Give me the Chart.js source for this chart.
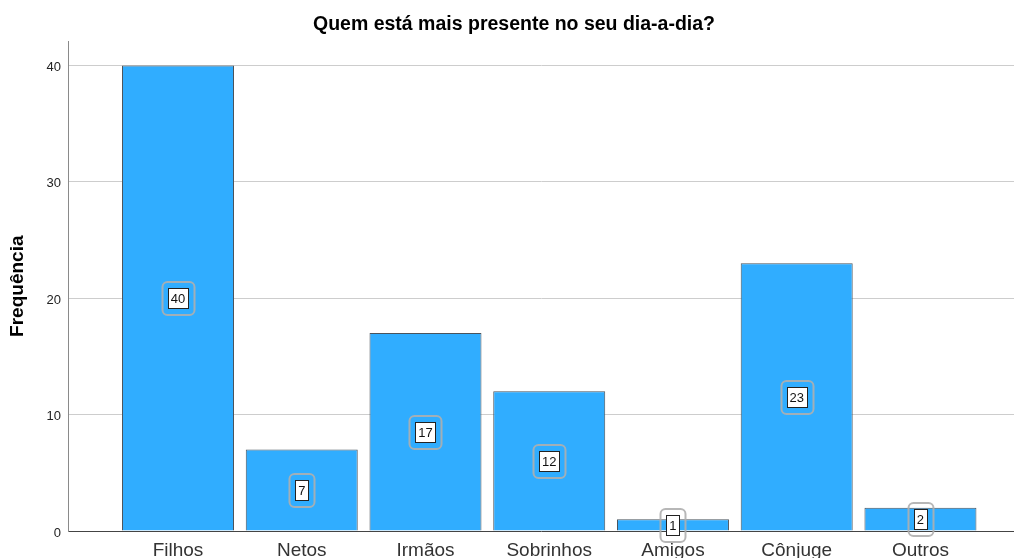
<!DOCTYPE html>
<html>
<head>
<meta charset="utf-8">
<script src="https://cdn.jsdelivr.net/npm/chart.js@4"></script>
<style>
  html, body { margin: 0; padding: 0; background: #fff; overflow: hidden; }
  #wrap { width: 1014px; height: 558px; position: relative; }
</style>
</head>
<body>
<div id="wrap"><canvas id="c" width="1014" height="558"></canvas></div>
<script>
const chartTitle = 'Quem está mais presente no seu dia-a-dia?';
const yAxisTitle = 'Frequência';
const categories = ['Filhos', 'Netos', 'Irmãos', 'Sobrinhos', 'Amigos', 'Cônjuge', 'Outros'];
const frequencies = [40, 7, 17, 12, 1, 23, 2];
const yTicks = [0, 10, 20, 30, 40];

const FONT = "'Liberation Sans', Arial, sans-serif";

const boxLabels = {
  id: 'boxLabels',
  afterDatasetsDraw(chart) {
    const ctx = chart.ctx;
    const meta = chart.getDatasetMeta(0);
    const yScale = chart.scales.y;
    ctx.save();
    ctx.font = '13px ' + FONT;
    ctx.textAlign = 'center';
    ctx.textBaseline = 'middle';
    meta.data.forEach((bar, i) => {
      const v = frequencies[i];
      const cx = bar.x;
      const cy = yScale.getPixelForValue(v / 2);
      const txt = String(v);
      const tw = ctx.measureText(txt).width;
      const iw = Math.round(tw + 6), ih = 20;
      const ix = Math.round(cx - iw / 2) + 0.5, iy = Math.round(cy - ih / 2) + 0.5;
      ctx.beginPath();
      ctx.strokeStyle = 'rgba(175,175,175,0.9)';
      ctx.lineWidth = 2;
      ctx.roundRect(ix - 6, iy - 6.5, iw + 12, ih + 13, 5);
      ctx.stroke();
      ctx.fillStyle = '#ffffff';
      ctx.fillRect(ix, iy, iw, ih);
      ctx.strokeStyle = '#222';
      ctx.lineWidth = 1;
      ctx.strokeRect(ix, iy, iw, ih);
      ctx.fillStyle = '#111';
      ctx.fillText(txt, cx, cy + 1);
    });
    ctx.restore();
  }
};

new Chart(document.getElementById('c'), {
  type: 'bar',
  data: {
    datasets: [{
      data: categories.map((c, i) => ({ x: i, y: frequencies[i] })),
      backgroundColor: '#30adff',
      borderColor: '#4a535c',
      borderWidth: 1,
      barPercentage: 0.905,
      categoryPercentage: 1
    }]
  },
  options: {
    responsive: false,
    animation: false,
    devicePixelRatio: 1,
    layout: { padding: { left: 14, right: 0, top: 0, bottom: 0 } },
    plugins: {
      legend: { display: false },
      tooltip: { enabled: false },
      title: {
        display: true,
        text: chartTitle,
        color: '#000',
        font: { family: FONT, size: 19.5, weight: 'bold' },
        padding: { top: 13, bottom: 5 }
      }
    },
    scales: {
      x: {
        type: 'linear',
        offset: false,
        min: -0.889,
        max: 6.756,
        afterFit: (s) => { s.height = 27; },
        grid: { display: false, drawTicks: false },
        border: { display: true, color: '#444', width: 1 },
        ticks: {
          stepSize: 1,
          includeBounds: false,
          autoSkip: false,
          maxRotation: 0,
          padding: 8,
          color: '#333',
          font: { family: FONT, size: 19 },
          callback: (v) => (Number.isInteger(v) && v >= 0 && v < categories.length) ? categories[v] : ''
        }
      },
      y: {
        min: 0,
        max: 42.06,
        afterFit: (s) => { s.width = 54; },
        grid: {
          drawTicks: false,
          color: (c) => (c.tick && c.tick.value === 0) ? 'rgba(0,0,0,0)' : '#cdcdcd',
          lineWidth: 1
        },
        border: { display: true, color: '#8a8a8a', width: 1 },
        ticks: {
          stepSize: 10,
          includeBounds: false,
          padding: 7,
          labelOffset: 2,
          color: '#222',
          font: { family: FONT, size: 13 },
          callback: (v) => yTicks.includes(v) ? String(v) : ''
        },
        title: {
          display: true,
          text: yAxisTitle,
          color: '#000',
          font: { family: FONT, size: 19, weight: 'bold' },
          padding: { top: -8, bottom: 0 }
        }
      }
    }
  },
  plugins: [boxLabels]
});
</script>
</body>
</html>
